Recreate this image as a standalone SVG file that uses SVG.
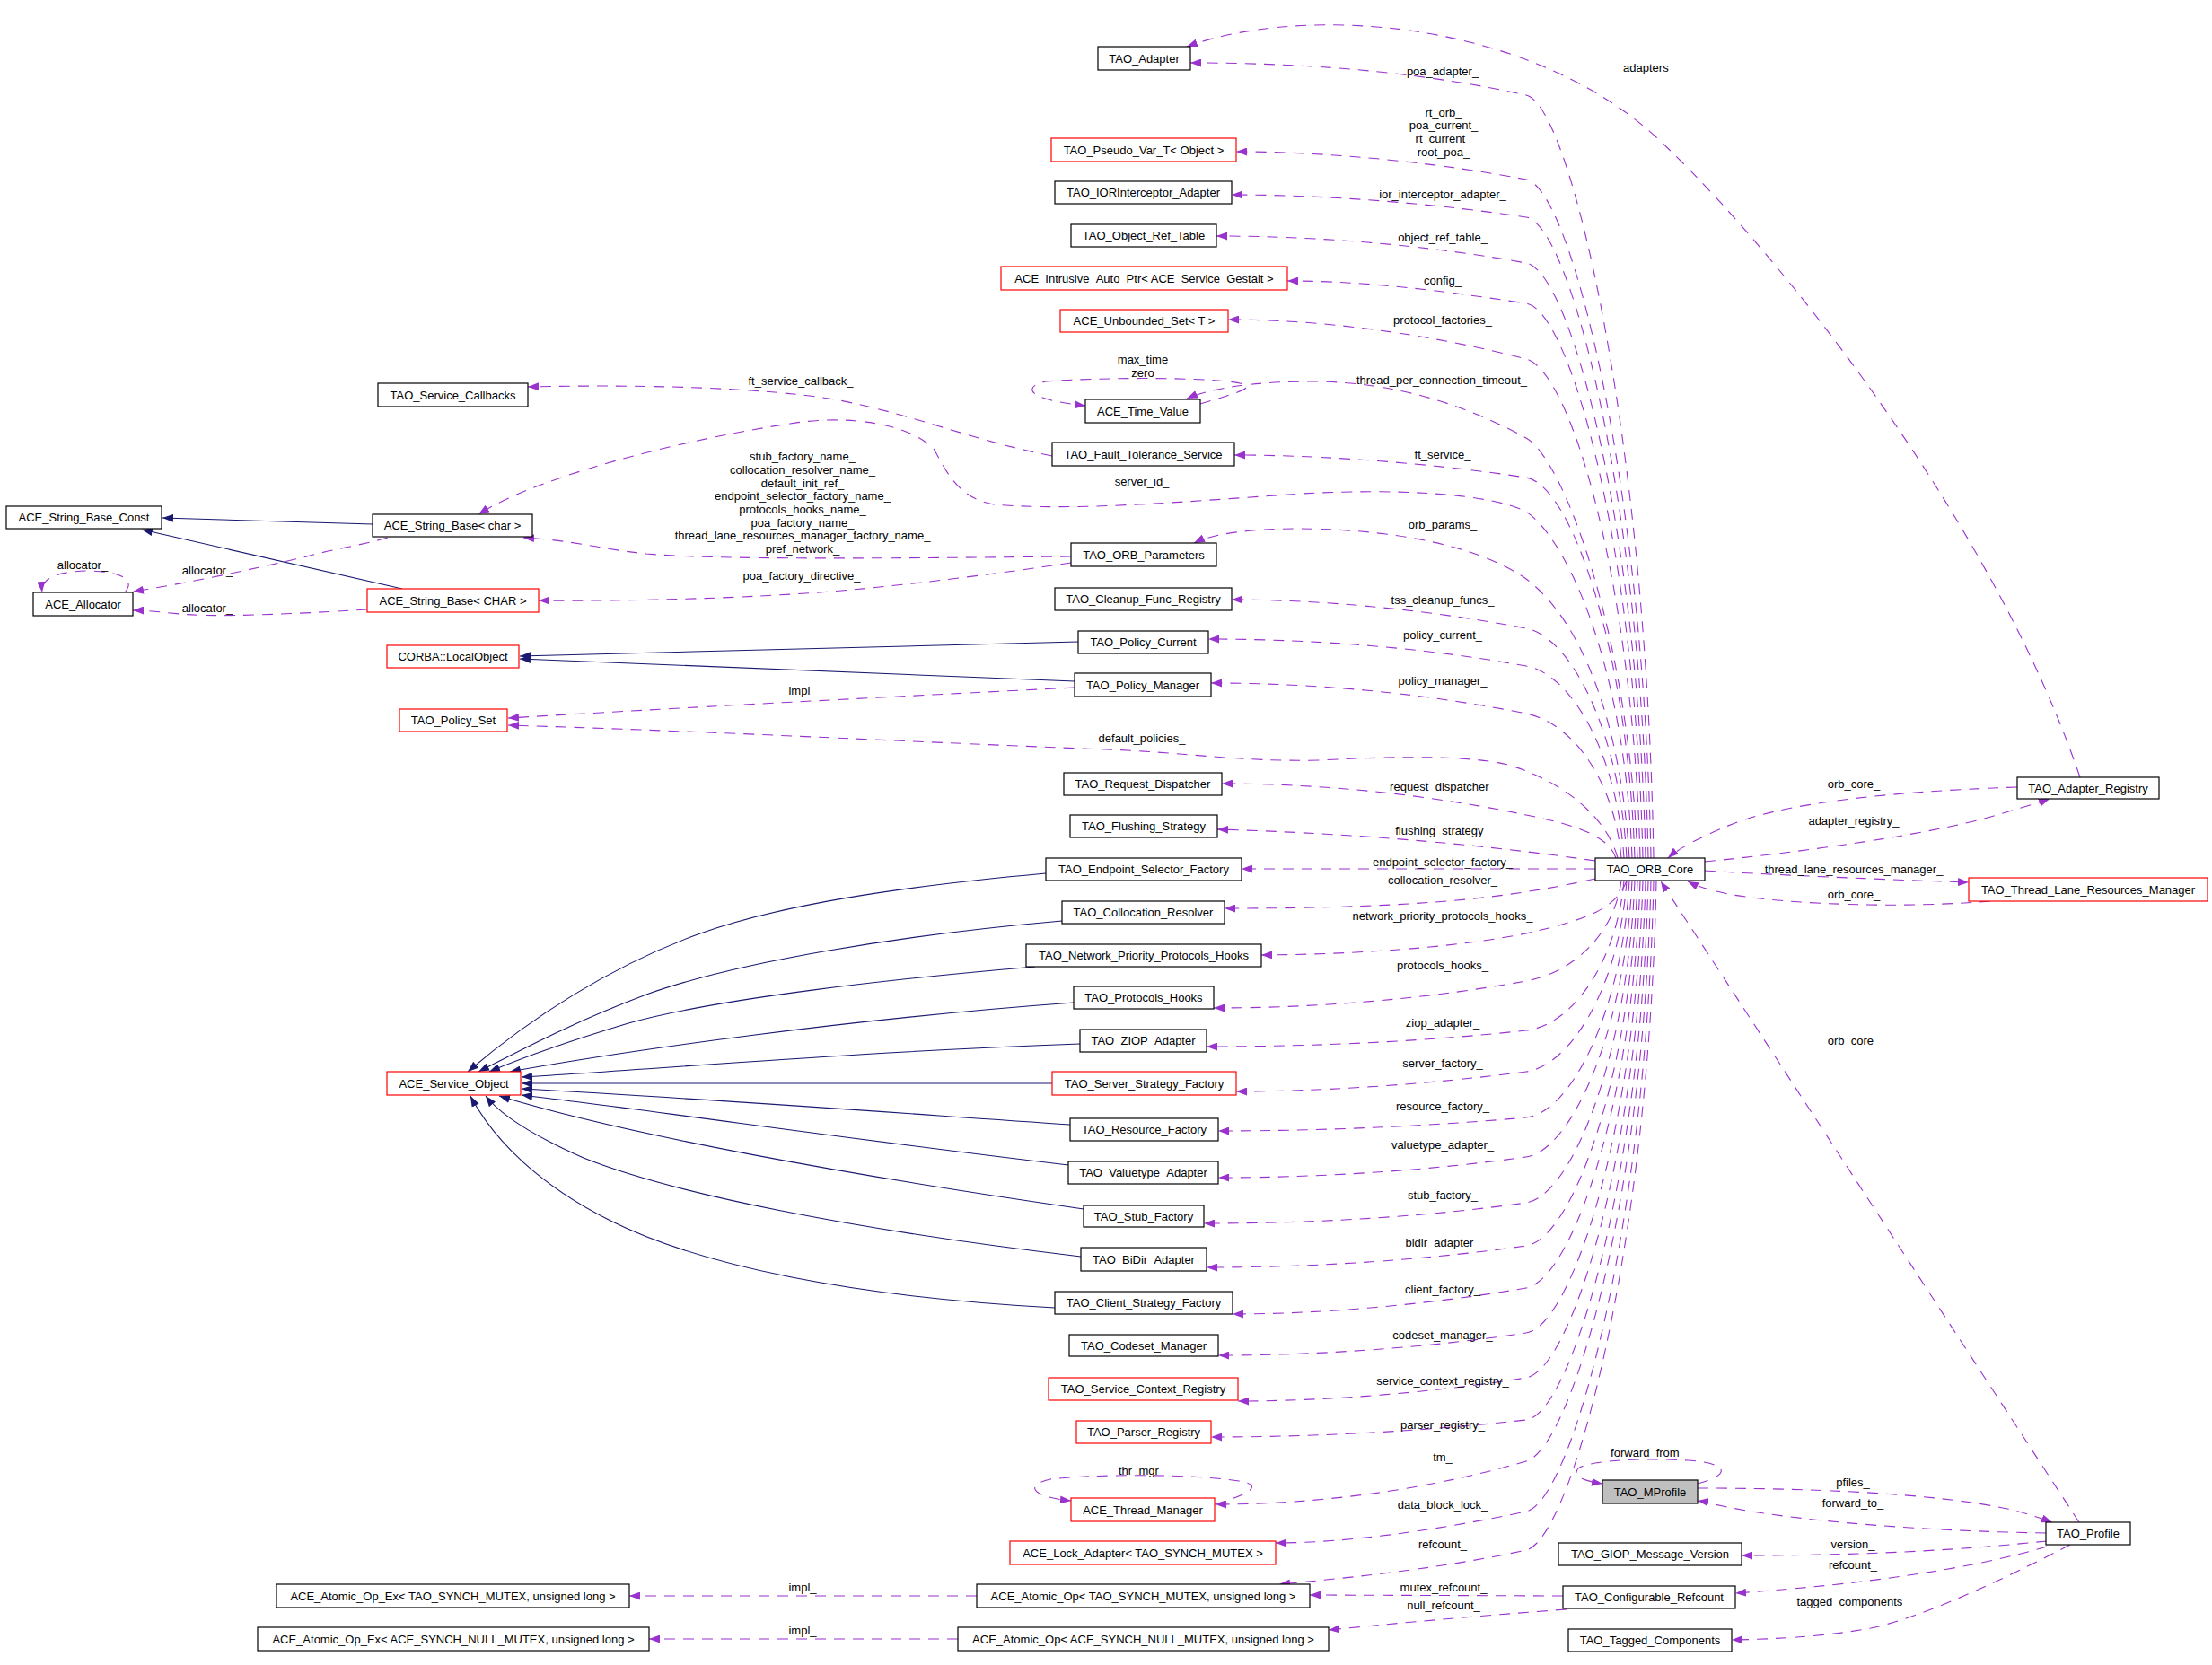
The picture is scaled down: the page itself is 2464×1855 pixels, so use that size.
<svg xmlns="http://www.w3.org/2000/svg" width="2464" height="1855" viewBox="0 0 2464 1855">
<defs>
<style>
.nb rect{fill:#fff;stroke:#000;stroke-width:1.2}
.nr rect{fill:#fff;stroke:#f00;stroke-width:1.2}
.ng rect{fill:#bfbfbf;stroke:#000;stroke-width:1.2}
text{font-family:"Liberation Sans",Arial,sans-serif;font-size:13px;fill:#000;text-anchor:middle}
.u{fill:none;stroke:#9a32cd;stroke-width:1.1;stroke-dasharray:12,9;marker-end:url(#ap)}
.h{fill:none;stroke:#191970;stroke-width:1.1;marker-end:url(#an)}
</style>
<marker id="ap" viewBox="0 0 12 9" refX="12" refY="4.5" markerWidth="12" markerHeight="9" orient="auto" markerUnits="userSpaceOnUse"><path d="M0,0L12,4.5L0,9z" fill="#9a32cd" stroke="none"/></marker>
<marker id="an" viewBox="0 0 12 9" refX="12" refY="4.5" markerWidth="12" markerHeight="9" orient="auto" markerUnits="userSpaceOnUse"><path d="M0,0L12,4.5L0,9z" fill="#191970" stroke="none"/></marker>
</defs>
<rect width="2464" height="1855" fill="#fff"/>
<g id="connectors">
<path class="h" d="M415,584 L181,577"/>
<path class="h" d="M448,656 L158,590"/>
<path class="h" d="M1201,715 L579,731"/>
<path class="h" d="M1197,759 L579,734"/>
<path class="h" d="M1165,973 C1000,988 870,1008 780,1040 C680,1076 590,1135 521,1194"/>
<path class="h" d="M1183,1026 C1000,1042 820,1072 720,1108 C640,1138 580,1170 533,1194"/>
<path class="h" d="M1153,1077 C1000,1090 800,1112 700,1140 C640,1158 590,1175 545,1194"/>
<path class="h" d="M1196,1117 C950,1135 700,1170 568,1194"/>
<path class="h" d="M1203,1163 C950,1172 750,1190 581,1200"/>
<path class="h" d="M1172,1207 L581,1207"/>
<path class="h" d="M1192,1253 C1000,1240 800,1225 581,1213"/>
<path class="h" d="M1190,1298 C950,1270 750,1240 581,1220"/>
<path class="h" d="M1207,1347 C950,1310 700,1265 556,1221"/>
<path class="h" d="M1204,1400 C950,1370 750,1330 650,1290 C600,1268 560,1245 541,1221"/>
<path class="h" d="M1175,1457 C950,1445 780,1410 680,1360 C600,1320 550,1270 524,1221"/>
<path class="u" d="M1842,956 C1834,488 1750,117 1700,106 C1600,84 1480,70 1326,70"/>
<path class="u" d="M1839,956 C1831,540 1750,209 1700,200 C1600,181 1480,169 1377,169"/>
<path class="u" d="M1836,956 C1828,563 1750,250 1700,242 C1600,227 1480,217 1372,217"/>
<path class="u" d="M1833,956 C1825,591 1750,302 1700,293 C1600,275 1480,263 1355,263"/>
<path class="u" d="M1830,956 C1822,616 1750,346 1700,338 C1600,323 1520,313 1434,313"/>
<path class="u" d="M1827,956 C1819,650 1750,413 1700,400 C1600,374 1480,356 1368,356"/>
<path class="u" d="M1824,956 C1814,700 1740,510 1700,488 C1640,455 1560,425 1460,425 C1400,425 1350,432 1322,444"/>
<path class="u" d="M1821,956 C1813,723 1750,540 1700,532 C1600,517 1480,507 1375,507"/>
<path class="u" d="M1818,956 C1810,740 1745,600 1700,570 C1660,550 1560,544 1450,550 C1330,558 1200,570 1107,562 C1065,555 1052,520 1040,500 C1010,470 940,462 880,472 C760,490 600,530 533,573"/>
<path class="u" d="M1815,956 C1805,800 1760,690 1700,645 C1650,610 1560,590 1450,589 C1390,589 1350,595 1330,605"/>
<path class="u" d="M1812,956 C1804,815 1750,710 1700,700 C1600,681 1480,668 1372,668"/>
<path class="u" d="M1809,956 C1801,838 1750,751 1700,742 C1600,724 1480,712 1346,712"/>
<path class="u" d="M1806,956 C1798,867 1750,805 1700,795 C1600,775 1480,761 1349,761"/>
<path class="u" d="M1802,956 C1790,910 1740,870 1680,852 C1640,842 1560,842 1470,847 C1380,849 1320,838 1232,835 C1000,826 800,815 566,808"/>
<path class="u" d="M1800,956 C1792,930 1750,918 1700,908 C1600,887 1480,873 1361,873"/>
<path class="u" d="M1777,959 C1700,948 1560,930 1356,924"/>
<path class="u" d="M1777,968 L1383,968"/>
<path class="u" d="M1777,979 C1690,998 1600,1012 1364,1012"/>
<path class="u" d="M1812,981 C1800,1015 1760,1026 1700,1040 C1640,1052 1540,1063 1405,1064"/>
<path class="u" d="M1806,981 C1798,1043 1750,1084 1700,1093 C1600,1111 1480,1123 1352,1123"/>
<path class="u" d="M1809,981 C1801,1073 1750,1143 1700,1148 C1600,1159 1480,1166 1344,1166"/>
<path class="u" d="M1812,981 C1804,1098 1750,1187 1700,1194 C1600,1207 1480,1216 1377,1216"/>
<path class="u" d="M1815,981 C1807,1126 1750,1240 1700,1245 C1600,1254 1480,1260 1357,1260"/>
<path class="u" d="M1818,981 C1810,1150 1750,1282 1700,1289 C1600,1303 1480,1312 1357,1312"/>
<path class="u" d="M1821,981 C1813,1178 1750,1333 1700,1340 C1600,1354 1480,1363 1341,1363"/>
<path class="u" d="M1824,981 C1816,1205 1750,1381 1700,1388 C1600,1402 1480,1412 1344,1412"/>
<path class="u" d="M1827,981 C1819,1231 1750,1426 1700,1435 C1600,1452 1480,1464 1373,1464"/>
<path class="u" d="M1830,981 C1822,1258 1750,1478 1700,1485 C1600,1500 1480,1510 1357,1510"/>
<path class="u" d="M1833,981 C1825,1286 1750,1527 1700,1535 C1600,1551 1480,1561 1379,1561"/>
<path class="u" d="M1836,981 C1828,1312 1750,1576 1700,1582 C1600,1593 1480,1601 1349,1601"/>
<path class="u" d="M1839,981 C1831,1337 1750,1614 1700,1628 C1600,1657 1480,1676 1354,1676"/>
<path class="u" d="M1842,981 C1834,1368 1750,1674 1700,1684 C1600,1705 1500,1719 1421,1719"/>
<path class="u" d="M1845,981 C1837,1391 1750,1716 1700,1727 C1600,1749 1480,1760 1425,1765"/>
<path class="u" d="M1337,450 C1370,440 1400,432 1385,428 C1360,420 1230,420 1165,425 C1140,430 1140,445 1209,452"/>
<path class="u" d="M1353,1676 C1390,1665 1410,1655 1380,1650 C1330,1642 1220,1642 1170,1648 C1140,1655 1150,1668 1193,1672"/>
<path class="u" d="M139,660 C150,648 140,637 100,636 C70,636 45,642 47,660"/>
<path class="u" d="M1891,1653 C1930,1643 1925,1630 1880,1627 C1830,1624 1770,1627 1758,1636 C1750,1645 1765,1650 1785,1653"/>
<path class="u" d="M1172,508 C1080,490 1020,462 930,445 C850,432 720,428 588,431"/>
<path class="u" d="M1193,620 C1000,622 800,624 720,617 C670,612 640,602 583,599"/>
<path class="u" d="M1193,627 C1120,638 1040,648 970,655 C880,664 750,670 600,669"/>
<path class="u" d="M432,599 C400,608 370,612 342,620 C290,632 220,648 148,659"/>
<path class="u" d="M409,679 C330,684 240,688 200,684 C180,682 165,680 148,680"/>
<path class="u" d="M1197,766 C1000,776 800,786 566,800"/>
<path class="u" d="M2317,866 C2220,580 1975,273 1845,153 C1700,20 1450,5 1322,52"/>
<path class="u" d="M2247,877 C2150,880 2000,890 1930,918 C1895,932 1870,945 1858,956"/>
<path class="u" d="M1899,960 C2000,950 2150,930 2221,909 C2250,900 2270,895 2283,890"/>
<path class="u" d="M1899,970 C1960,974 2100,980 2193,983"/>
<path class="u" d="M2217,1004 C2120,1012 2000,1008 1930,997 C1905,992 1890,987 1880,982"/>
<path class="u" d="M2316,1696 L1850,982"/>
<path class="u" d="M1891,1658 C2000,1658 2150,1662 2241,1682 C2260,1687 2275,1692 2286,1696"/>
<path class="u" d="M2279,1708 C2150,1706 2000,1695 1919,1678 C1905,1675 1898,1673 1891,1672"/>
<path class="u" d="M2280,1717 C2200,1725 2100,1733 1940,1733"/>
<path class="u" d="M2280,1723 C2200,1747 2080,1765 1933,1775"/>
<path class="u" d="M2306,1721 C2250,1750 2150,1800 2084,1814 C2040,1822 1990,1826 1929,1827"/>
<path class="u" d="M1741,1778 L1459,1777"/>
<path class="u" d="M1745,1793 C1650,1800 1560,1808 1480,1816"/>
<path class="u" d="M1088,1778 L701,1778"/>
<path class="u" d="M1067,1826 L723,1826"/>
</g>
<g id="edge-labels">
<text x="1837" y="79.5">adapters_</text>
<text x="1607" y="83.5">poa_adapter_</text>
<text x="1608" y="129.5">rt_orb_</text>
<text x="1608" y="143.5">poa_current_</text>
<text x="1608" y="158.5">rt_current_</text>
<text x="1608" y="173.5">root_poa_</text>
<text x="1607" y="220.5">ior_interceptor_adapter_</text>
<text x="1607" y="268.5">object_ref_table_</text>
<text x="1607" y="316.5">config_</text>
<text x="1607" y="360.5">protocol_factories_</text>
<text x="1273" y="404.5">max_time</text>
<text x="1273" y="419.5">zero</text>
<text x="1606" y="427.5">thread_per_connection_timeout_</text>
<text x="892" y="428.5">ft_service_callback_</text>
<text x="1607" y="510.5">ft_service_</text>
<text x="1272" y="540.5">server_id_</text>
<text x="894" y="512.5">stub_factory_name_</text>
<text x="894" y="527.5">collocation_resolver_name_</text>
<text x="894" y="542.5">default_init_ref_</text>
<text x="894" y="556.5">endpoint_selector_factory_name_</text>
<text x="894" y="571.5">protocols_hooks_name_</text>
<text x="894" y="586.5">poa_factory_name_</text>
<text x="894" y="600.5">thread_lane_resources_manager_factory_name_</text>
<text x="894" y="615.5">pref_network_</text>
<text x="1607" y="588.5">orb_params_</text>
<text x="92" y="633.5">allocator_</text>
<text x="231" y="639.5">allocator_</text>
<text x="231" y="681.5">allocator_</text>
<text x="893" y="645.5">poa_factory_directive_</text>
<text x="1607" y="672.5">tss_cleanup_funcs_</text>
<text x="1607" y="711.5">policy_current_</text>
<text x="1607" y="762.5">policy_manager_</text>
<text x="894" y="773.5">impl_</text>
<text x="1272" y="826.5">default_policies_</text>
<text x="1607" y="880.5">request_dispatcher_</text>
<text x="2065" y="877.5">orb_core_</text>
<text x="2065" y="918.5">adapter_registry_</text>
<text x="1607" y="929.5">flushing_strategy_</text>
<text x="1607" y="964.5">endpoint_selector_factory_</text>
<text x="2065" y="972.5">thread_lane_resources_manager_</text>
<text x="1607" y="984.5">collocation_resolver_</text>
<text x="2065" y="1000.5">orb_core_</text>
<text x="1607" y="1024.5">network_priority_protocols_hooks_</text>
<text x="1607" y="1079.5">protocols_hooks_</text>
<text x="1607" y="1143.5">ziop_adapter_</text>
<text x="2065" y="1163.5">orb_core_</text>
<text x="1607" y="1188.5">server_factory_</text>
<text x="1607" y="1236.5">resource_factory_</text>
<text x="1607" y="1279.5">valuetype_adapter_</text>
<text x="1607" y="1335.5">stub_factory_</text>
<text x="1607" y="1388.5">bidir_adapter_</text>
<text x="1607" y="1440.5">client_factory_</text>
<text x="1607" y="1491.5">codeset_manager_</text>
<text x="1607" y="1542.5">service_context_registry_</text>
<text x="1607" y="1591.5">parser_registry_</text>
<text x="1836" y="1622.5">forward_from_</text>
<text x="1607" y="1627.5">tm_</text>
<text x="1272" y="1642.5">thr_mgr_</text>
<text x="2064" y="1655.5">pfiles_</text>
<text x="2064" y="1678.5">forward_to_</text>
<text x="1607" y="1680.5">data_block_lock_</text>
<text x="1607" y="1724.5">refcount_</text>
<text x="2064" y="1724.5">version_</text>
<text x="2064" y="1747.5">refcount_</text>
<text x="894" y="1772.5">impl_</text>
<text x="1608" y="1772.5">mutex_refcount_</text>
<text x="2064" y="1788.5">tagged_components_</text>
<text x="1608" y="1792.5">null_refcount_</text>
<text x="894" y="1820.5">impl_</text>
</g>
<g id="nodes">
<g id="n_TAO_Adapter" class="nb"><rect x="1223" y="52" width="103" height="26"/><text x="1274.5" y="69.5">TAO_Adapter</text></g>
<g id="n_TAO_Pseudo_Var_T" class="nr"><rect x="1171" y="154" width="206" height="26"/><text x="1274" y="171.5">TAO_Pseudo_Var_T&lt; Object &gt;</text></g>
<g id="n_TAO_IORInterceptor_Adapter" class="nb"><rect x="1175" y="202" width="197" height="25"/><text x="1273.5" y="219">TAO_IORInterceptor_Adapter</text></g>
<g id="n_TAO_Object_Ref_Table" class="nb"><rect x="1193" y="250" width="162" height="25"/><text x="1274" y="267">TAO_Object_Ref_Table</text></g>
<g id="n_ACE_Intrusive_Auto_Ptr" class="nr"><rect x="1115" y="297" width="319" height="26"/><text x="1274.5" y="314.5">ACE_Intrusive_Auto_Ptr&lt; ACE_Service_Gestalt &gt;</text></g>
<g id="n_ACE_Unbounded_Set" class="nr"><rect x="1181" y="345" width="187" height="25"/><text x="1274.5" y="362">ACE_Unbounded_Set&lt; T &gt;</text></g>
<g id="n_ACE_Time_Value" class="nb"><rect x="1209" y="445" width="128" height="26"/><text x="1273" y="462.5">ACE_Time_Value</text></g>
<g id="n_TAO_Service_Callbacks" class="nb"><rect x="421" y="427" width="167" height="26"/><text x="504.5" y="444.5">TAO_Service_Callbacks</text></g>
<g id="n_TAO_Fault_Tolerance_Service" class="nb"><rect x="1172" y="493" width="203" height="26"/><text x="1273.5" y="510.5">TAO_Fault_Tolerance_Service</text></g>
<g id="n_ACE_String_Base_Const" class="nb"><rect x="7" y="564" width="173" height="25"/><text x="93.5" y="581">ACE_String_Base_Const</text></g>
<g id="n_ACE_String_Base_char" class="nb"><rect x="415" y="573" width="178" height="25"/><text x="504" y="590">ACE_String_Base&lt; char &gt;</text></g>
<g id="n_TAO_ORB_Parameters" class="nb"><rect x="1193" y="605" width="162" height="26"/><text x="1274" y="622.5">TAO_ORB_Parameters</text></g>
<g id="n_ACE_Allocator" class="nb"><rect x="37" y="660" width="111" height="26"/><text x="92.5" y="677.5">ACE_Allocator</text></g>
<g id="n_ACE_String_Base_CHAR" class="nr"><rect x="409" y="656" width="191" height="26"/><text x="504.5" y="673.5">ACE_String_Base&lt; CHAR &gt;</text></g>
<g id="n_TAO_Cleanup_Func_Registry" class="nb"><rect x="1175" y="655" width="197" height="25"/><text x="1273.5" y="672">TAO_Cleanup_Func_Registry</text></g>
<g id="n_CORBA_LocalObject" class="nr"><rect x="431" y="719" width="147" height="25"/><text x="504.5" y="736">CORBA::LocalObject</text></g>
<g id="n_TAO_Policy_Current" class="nb"><rect x="1201" y="703" width="145" height="25"/><text x="1273.5" y="720">TAO_Policy_Current</text></g>
<g id="n_TAO_Policy_Manager" class="nb"><rect x="1197" y="750" width="152" height="26"/><text x="1273" y="767.5">TAO_Policy_Manager</text></g>
<g id="n_TAO_Policy_Set" class="nr"><rect x="445" y="790" width="120" height="25"/><text x="505" y="807">TAO_Policy_Set</text></g>
<g id="n_TAO_Request_Dispatcher" class="nb"><rect x="1185" y="861" width="176" height="25"/><text x="1273" y="878">TAO_Request_Dispatcher</text></g>
<g id="n_TAO_Flushing_Strategy" class="nb"><rect x="1192" y="908" width="164" height="25"/><text x="1274" y="925">TAO_Flushing_Strategy</text></g>
<g id="n_TAO_Endpoint_Selector_Factory" class="nb"><rect x="1165" y="956" width="218" height="25"/><text x="1274" y="973">TAO_Endpoint_Selector_Factory</text></g>
<g id="n_TAO_Collocation_Resolver" class="nb"><rect x="1183" y="1004" width="181" height="25"/><text x="1273.5" y="1021">TAO_Collocation_Resolver</text></g>
<g id="n_TAO_Network_Priority_Protocols_Hooks" class="nb"><rect x="1143" y="1052" width="262" height="25"/><text x="1274" y="1069">TAO_Network_Priority_Protocols_Hooks</text></g>
<g id="n_TAO_Protocols_Hooks" class="nb"><rect x="1196" y="1099" width="156" height="25"/><text x="1274" y="1116">TAO_Protocols_Hooks</text></g>
<g id="n_TAO_ZIOP_Adapter" class="nb"><rect x="1203" y="1147" width="141" height="25"/><text x="1273.5" y="1164">TAO_ZIOP_Adapter</text></g>
<g id="n_TAO_Server_Strategy_Factory" class="nr"><rect x="1172" y="1194" width="205" height="26"/><text x="1274.5" y="1211.5">TAO_Server_Strategy_Factory</text></g>
<g id="n_ACE_Service_Object" class="nr"><rect x="431" y="1194" width="149" height="26"/><text x="505.5" y="1211.5">ACE_Service_Object</text></g>
<g id="n_TAO_Resource_Factory" class="nb"><rect x="1192" y="1246" width="165" height="25"/><text x="1274.5" y="1263">TAO_Resource_Factory</text></g>
<g id="n_TAO_Valuetype_Adapter" class="nb"><rect x="1190" y="1294" width="167" height="25"/><text x="1273.5" y="1311">TAO_Valuetype_Adapter</text></g>
<g id="n_TAO_Stub_Factory" class="nb"><rect x="1207" y="1343" width="134" height="24"/><text x="1274" y="1359.5">TAO_Stub_Factory</text></g>
<g id="n_TAO_BiDir_Adapter" class="nb"><rect x="1204" y="1390" width="140" height="26"/><text x="1274" y="1407.5">TAO_BiDir_Adapter</text></g>
<g id="n_TAO_Client_Strategy_Factory" class="nb"><rect x="1175" y="1439" width="198" height="25"/><text x="1274" y="1456">TAO_Client_Strategy_Factory</text></g>
<g id="n_TAO_Codeset_Manager" class="nb"><rect x="1191" y="1487" width="166" height="24"/><text x="1274" y="1503.5">TAO_Codeset_Manager</text></g>
<g id="n_TAO_Service_Context_Registry" class="nr"><rect x="1168" y="1535" width="211" height="25"/><text x="1273.5" y="1552">TAO_Service_Context_Registry</text></g>
<g id="n_TAO_Parser_Registry" class="nr"><rect x="1199" y="1583" width="150" height="25"/><text x="1274" y="1600">TAO_Parser_Registry</text></g>
<g id="n_ACE_Thread_Manager" class="nr"><rect x="1193" y="1669" width="160" height="26"/><text x="1273" y="1686.5">ACE_Thread_Manager</text></g>
<g id="n_ACE_Lock_Adapter" class="nr"><rect x="1125" y="1717" width="296" height="26"/><text x="1273" y="1734.5">ACE_Lock_Adapter&lt; TAO_SYNCH_MUTEX &gt;</text></g>
<g id="n_ACE_Atomic_Op_TAO" class="nb"><rect x="1088" y="1765" width="371" height="26"/><text x="1273.5" y="1782.5">ACE_Atomic_Op&lt; TAO_SYNCH_MUTEX, unsigned long &gt;</text></g>
<g id="n_ACE_Atomic_Op_ACE" class="nb"><rect x="1067" y="1813" width="413" height="26"/><text x="1273.5" y="1830.5">ACE_Atomic_Op&lt; ACE_SYNCH_NULL_MUTEX, unsigned long &gt;</text></g>
<g id="n_ACE_Atomic_Op_Ex_TAO" class="nb"><rect x="308" y="1765" width="393" height="26"/><text x="504.5" y="1782.5">ACE_Atomic_Op_Ex&lt; TAO_SYNCH_MUTEX, unsigned long &gt;</text></g>
<g id="n_ACE_Atomic_Op_Ex_ACE" class="nb"><rect x="287" y="1813" width="436" height="26"/><text x="505" y="1830.5">ACE_Atomic_Op_Ex&lt; ACE_SYNCH_NULL_MUTEX, unsigned long &gt;</text></g>
<g id="n_TAO_ORB_Core" class="nb"><rect x="1777" y="956" width="122" height="25"/><text x="1838" y="973">TAO_ORB_Core</text></g>
<g id="n_TAO_Adapter_Registry" class="nb"><rect x="2247" y="866" width="158" height="24"/><text x="2326" y="882.5">TAO_Adapter_Registry</text></g>
<g id="n_TAO_Thread_Lane_Resources_Manager" class="nr"><rect x="2193" y="978" width="266" height="26"/><text x="2326" y="995.5">TAO_Thread_Lane_Resources_Manager</text></g>
<g id="n_TAO_MProfile" class="ng"><rect x="1785" y="1649" width="106" height="26"/><text x="1838" y="1666.5">TAO_MProfile</text></g>
<g id="n_TAO_GIOP_Message_Version" class="nb"><rect x="1736" y="1719" width="204" height="25"/><text x="1838" y="1736">TAO_GIOP_Message_Version</text></g>
<g id="n_TAO_Configurable_Refcount" class="nb"><rect x="1741" y="1767" width="192" height="25"/><text x="1837" y="1784">TAO_Configurable_Refcount</text></g>
<g id="n_TAO_Tagged_Components" class="nb"><rect x="1747" y="1815" width="182" height="25"/><text x="1838" y="1832">TAO_Tagged_Components</text></g>
<g id="n_TAO_Profile" class="nb"><rect x="2279" y="1696" width="94" height="25"/><text x="2326" y="1713">TAO_Profile</text></g>
</g>
</svg>
